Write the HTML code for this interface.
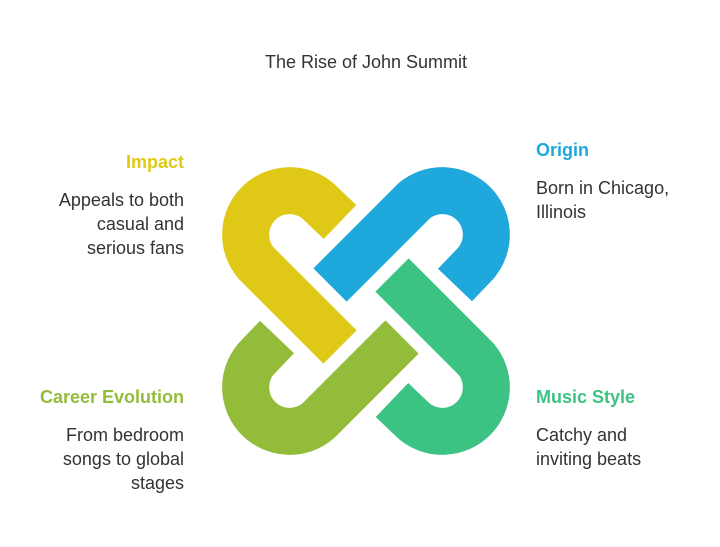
<!DOCTYPE html>
<html><head><meta charset="utf-8"><style>
body{margin:0;background:#fff;width:720px;height:547px;overflow:hidden;position:relative;font-family:"Liberation Sans",Arial,sans-serif;}
.t{position:absolute;font-size:18px;line-height:24px;color:#333;}
.h{position:absolute;font-size:18px;font-weight:bold;line-height:24px;}
.r{text-align:right;}
</style></head><body>
<div class="t" style="left:0;width:732px;top:50px;text-align:center;">The Rise of John Summit</div>
<svg width="720" height="547" style="position:absolute;left:0;top:0">
<g fill="none" stroke-width="47" stroke-linecap="butt">
<path d="M340 222 L318 201 A44 44 0 0 0 256 263 L340 347" stroke="#E0C916"/>
<path d="M340 222 L318 201 A44 44 0 0 0 256 263 L340 347" stroke="#1EA8DB" transform="rotate(90 366 311)"/>
<path d="M340 222 L318 201 A44 44 0 0 0 256 263 L340 347" stroke="#3CC383" transform="rotate(180 366 311)"/>
<path d="M340 222 L318 201 A44 44 0 0 0 256 263 L340 347" stroke="#93BC3A" transform="rotate(270 366 311)"/>
</g></svg>
<div class="h r" style="right:536px;top:150px;color:#E0C916">Impact</div>
<div class="t r" style="right:536px;top:188px;">Appeals to both<br>casual and<br>serious fans</div>
<div class="h" style="left:536px;top:138px;color:#1EA8DB">Origin</div>
<div class="t" style="left:536px;top:176px;">Born in Chicago,<br>Illinois</div>
<div class="h r" style="right:536px;top:385px;color:#93BC3A">Career Evolution</div>
<div class="t r" style="right:536px;top:423px;">From bedroom<br>songs to global<br>stages</div>
<div class="h" style="left:536px;top:385px;color:#3CC383">Music Style</div>
<div class="t" style="left:536px;top:423px;">Catchy and<br>inviting beats</div>
</body></html>
